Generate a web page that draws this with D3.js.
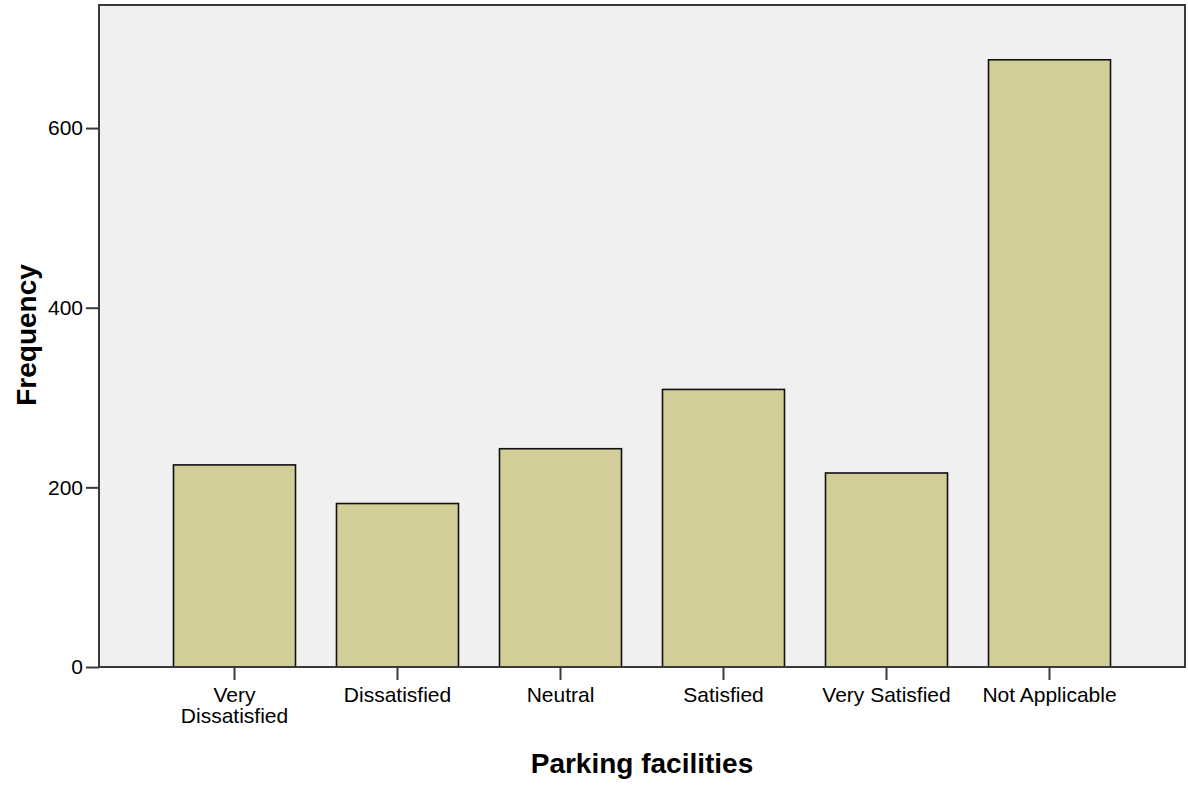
<!DOCTYPE html>
<html>
<head>
<meta charset="utf-8">
<script src="https://cdn.jsdelivr.net/npm/d3@7"></script>
<style>
  html, body { margin: 0; padding: 0; background: #ffffff; }
  svg { display: block; }
  text { font-family: "Liberation Sans", Arial, sans-serif; fill: #000; }
</style>
</head>
<body>
<svg id="chart" width="1188" height="786"></svg>
<script>
// Parking facilities satisfaction – frequency counts
const categories = ["Very Dissatisfied", "Dissatisfied", "Neutral", "Satisfied", "Very Satisfied", "Not Applicable"];
const categoryLines = [["Very", "Dissatisfied"], ["Dissatisfied"], ["Neutral"], ["Satisfied"], ["Very Satisfied"], ["Not Applicable"]];
const frequencies = [225, 182, 243, 309, 216, 676];
const yTicks = [0, 200, 400, 600];
const yMax = 737;

const svg = d3.select("#chart");
const plot = { left: 99, top: 5, right: 1185, bottom: 667 };

const x = d3.scaleBand()
  .domain(categories)
  .range([plot.left, plot.right])
  .paddingInner(0.2515)
  .paddingOuter(0.457);

const y = d3.scaleLinear()
  .domain([0, yMax])
  .range([plot.bottom, plot.top]);

// plot background
svg.append("rect")
  .attr("x", plot.left)
  .attr("y", plot.top)
  .attr("width", plot.right - plot.left)
  .attr("height", plot.bottom - plot.top)
  .attr("fill", "#f0f0f0");

// bars
svg.append("g")
  .selectAll("rect")
  .data(frequencies)
  .join("rect")
  .attr("x", (d, i) => x(categories[i]))
  .attr("y", d => y(d))
  .attr("width", x.bandwidth())
  .attr("height", d => y(0) - y(d))
  .attr("fill", "#d3ce97")
  .attr("stroke", "#111")
  .attr("stroke-width", 1.6);

// frame
svg.append("rect")
  .attr("x", plot.left)
  .attr("y", plot.top)
  .attr("width", plot.right - plot.left)
  .attr("height", plot.bottom - plot.top)
  .attr("fill", "none")
  .attr("stroke", "#3a3a3a")
  .attr("stroke-width", 2);

// y axis
const yAxis = svg.append("g")
  .attr("transform", `translate(${plot.left},0)`)
  .call(d3.axisLeft(y).tickValues(yTicks).tickSize(13).tickPadding(3).tickFormat(d3.format("d")));
yAxis.select(".domain").remove();
yAxis.selectAll(".tick line").attr("stroke", "#3a3a3a").attr("stroke-width", 2);
yAxis.selectAll(".tick text")
  .attr("font-size", 21)
  .attr("font-family", "Liberation Sans, Arial, sans-serif")
  .attr("fill", "#111");

// x axis
const xAxis = svg.append("g")
  .attr("transform", `translate(0,${plot.bottom})`)
  .call(d3.axisBottom(x).tickSize(13).tickFormat(""));
xAxis.select(".domain").remove();
xAxis.selectAll(".tick line").attr("stroke", "#3a3a3a").attr("stroke-width", 2);
xAxis.selectAll(".tick").each(function(d, i) {
  const t = d3.select(this).append("text")
    .attr("text-anchor", "middle")
    .attr("font-size", 21)
    .attr("font-family", "Liberation Sans, Arial, sans-serif")
    .attr("fill", "#111");
  categoryLines[i].forEach((line, k) => {
    t.append("tspan").attr("x", 0).attr("y", 35 + k * 21).text(line);
  });
});

// axis titles
svg.append("text")
  .attr("x", 642)
  .attr("y", 773)
  .attr("text-anchor", "middle")
  .attr("font-size", 28)
  .attr("font-weight", "bold")
  .text("Parking facilities");

svg.append("text")
  .attr("transform", "translate(36,335) rotate(-90)")
  .attr("text-anchor", "middle")
  .attr("font-size", 28)
  .attr("font-weight", "bold")
  .text("Frequency");
</script>
</body>
</html>
